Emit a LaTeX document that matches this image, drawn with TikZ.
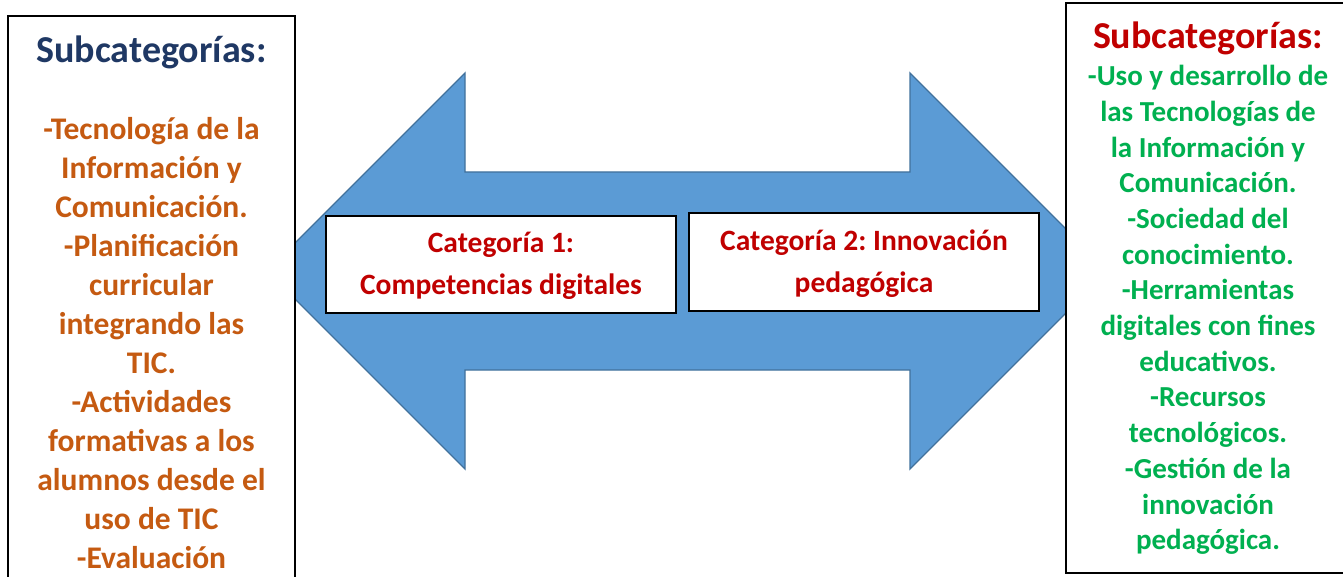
\documentclass[tikz,border=0pt]{standalone}
\usepackage{fontspec}
\setmainfont{Carlito}
\frenchspacing
\definecolor{arrowfill}{HTML}{5B9BD5}
\definecolor{arrowline}{HTML}{41719C}
\definecolor{navy}{HTML}{1F3864}
\definecolor{darkred}{HTML}{C00000}
\definecolor{orangetxt}{HTML}{C55A11}
\definecolor{greentxt}{HTML}{00B050}
\begin{document}
\begin{tikzpicture}[x=1pt,y=-1pt,
  frame/.style={draw=black, line width=2pt, fill=white, rectangle, inner sep=0pt},
  txt/.style={align=center, inner sep=0pt, font=\bfseries}]
\useasboundingbox (0,0) rectangle (1343,577);
\clip (0,0) rectangle (1343,577);
% double arrow
\draw[fill=arrowfill, draw=arrowline, line width=1.3pt, line join=miter]
  (267,271) -- (465,73) -- (465,172) -- (910,172) -- (910,73) -- (1108,271)
  -- (910,469) -- (910,370) -- (465,370) -- (465,469) -- cycle;
% boxes
\node[frame, minimum width=287pt, minimum height=590pt] (leftbox) at (151.5,311) {};
\node[frame, minimum width=300pt, minimum height=570pt] (rightbox) at (1216,288) {};
\node[frame, minimum width=350pt, minimum height=97pt] (cat1) at (501,264.5) {};
\node[frame, minimum width=350pt, minimum height=98pt] (cat2) at (864,262) {};
% texts
\node[txt, text=navy, font=\bfseries\fontsize{38}{44}\selectfont] (lefthead) at (151.5,52) {Subcategorías:};
\node[txt, text=orangetxt, font=\bfseries\fontsize{31.5}{39}\selectfont] (leftlist) at (151.5,343)
 {-Tecnología de la\\Información y\\Comunicación.\\-Planificación\\curricular\\integrando las\\TIC.\\-Actividades\\formativas a los\\alumnos desde el\\uso de TIC\\-Evaluación};
\node[txt, text=darkred, font=\bfseries\fontsize{38}{44}\selectfont] (righthead) at (1208,38) {Subcategorías:};
\node[txt, text=greentxt, font=\bfseries\fontsize{29}{35.7}\selectfont] (rightlist) at (1208,310)
 {-Uso y desarrollo de\\las Tecnologías de\\la Información y\\Comunicación.\\-Sociedad del\\conocimiento.\\-Herramientas\\digitales con fines\\educativos.\\-Recursos\\tecnológicos.\\-Gestión de la\\innovación\\pedagógica.};
\node[txt, text=darkred, font=\bfseries\fontsize{29.5}{42}\selectfont] (cat1txt) at (501,266) {Categoría 1:\\Competencias digitales};
\node[txt, text=darkred, font=\bfseries\fontsize{29.5}{42}\selectfont] (cat2txt) at (864,264) {Categoría 2: Innovación\\pedagógica};
\end{tikzpicture}
\end{document}
